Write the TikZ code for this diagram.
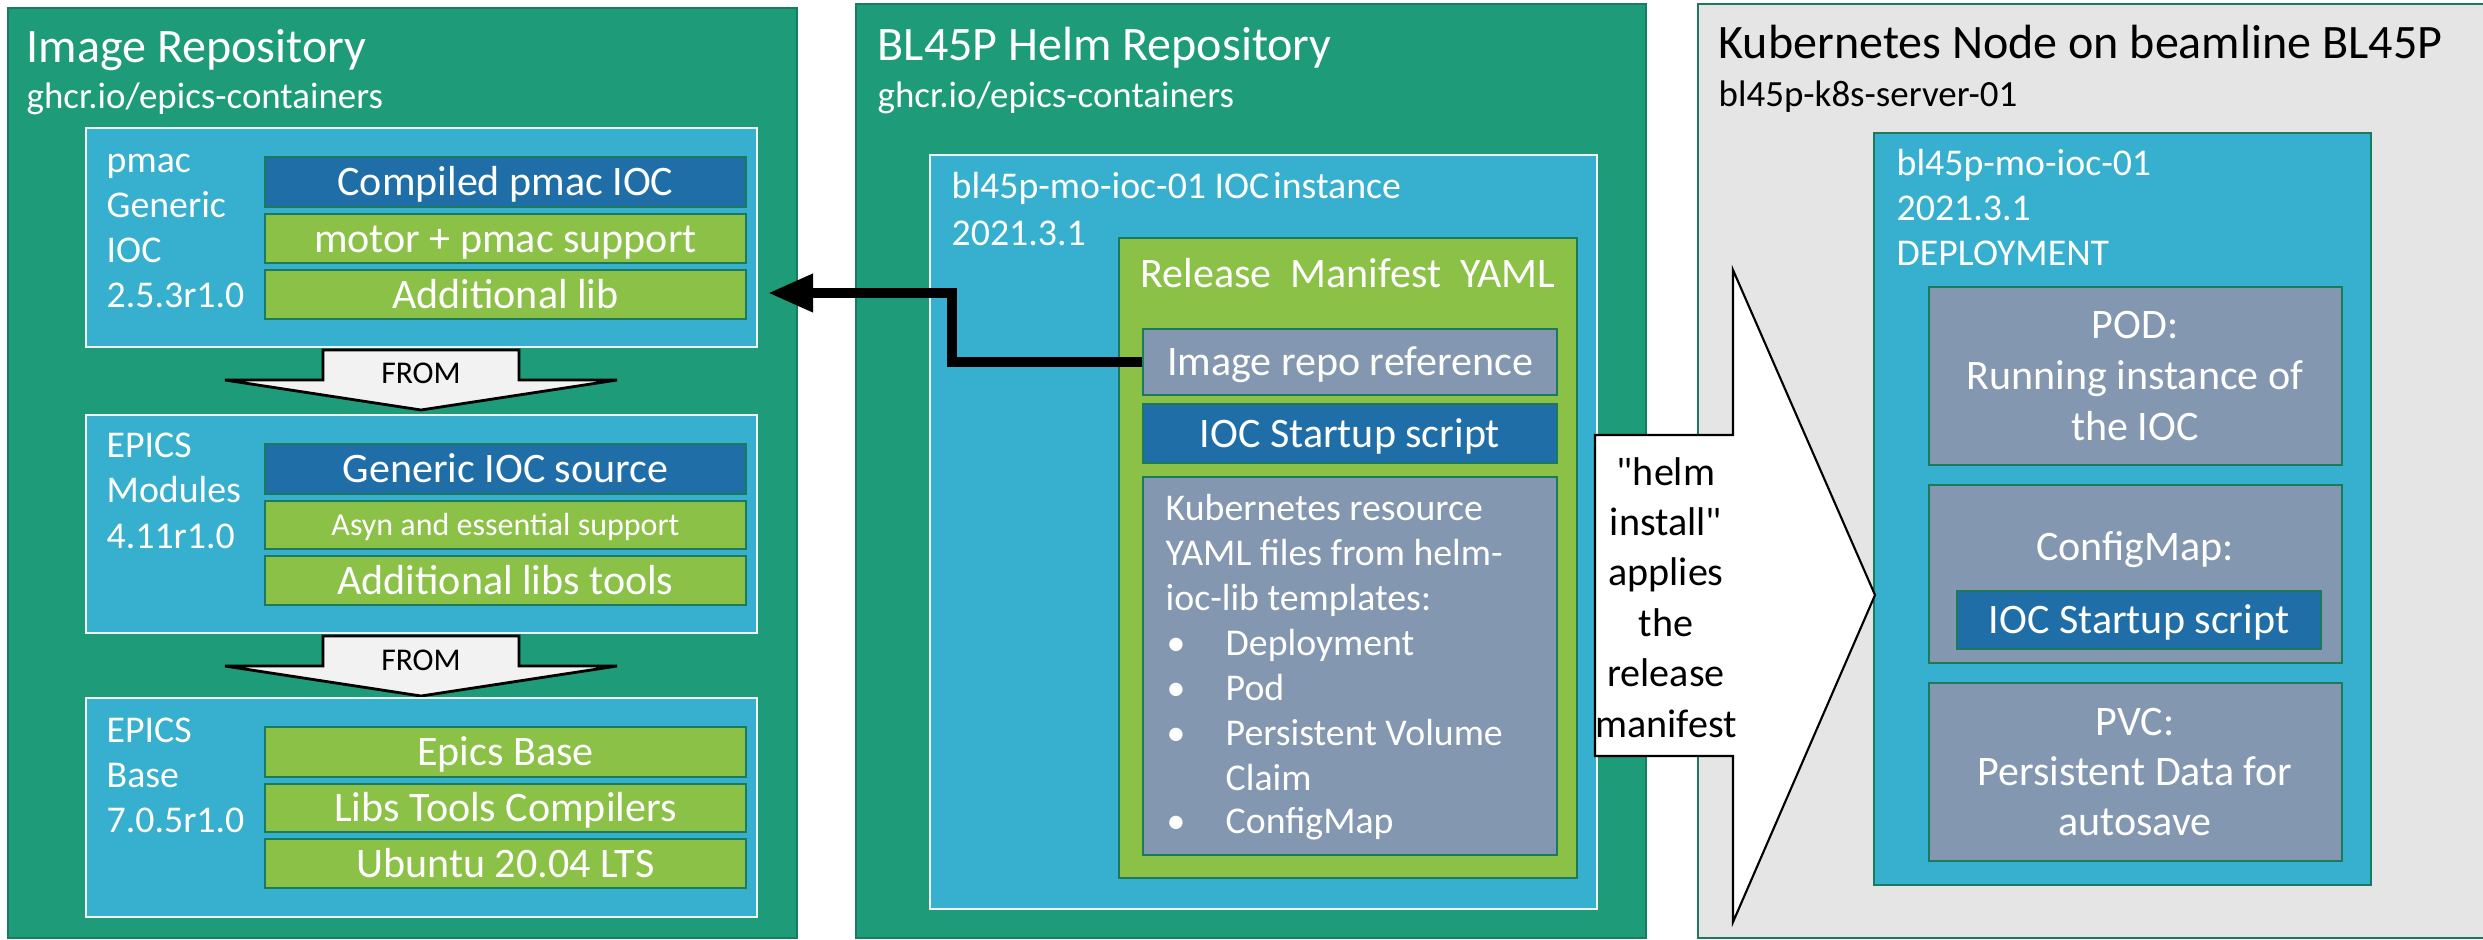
\documentclass[tikz,border=0pt]{standalone}
\usepackage{fontspec}
\setmainfont{Carlito}
\usetikzlibrary{fit,arrows.meta}
\definecolor{panelgreen}{RGB}{30,155,120}
\definecolor{paneledge}{RGB}{24,125,96}
\definecolor{cyanbox}{RGB}{55,175,206}
\definecolor{darkblue}{RGB}{31,110,168}
\definecolor{barGreen}{RGB}{139,193,71}
\definecolor{greyblue}{RGB}{132,151,176}
\definecolor{lightgrey}{RGB}{229,229,229}
\definecolor{fromfill}{RGB}{242,242,242}
\definecolor{edgegreen}{RGB}{28,122,92}
\newcommand\fsz[2]{\fontsize{#1}{#2}\selectfont}
\tikzset{
  panel/.style={fill=panelgreen, draw=paneledge, line width=0.6pt, inner sep=0pt},
  greypanel/.style={fill=lightgrey, draw=edgegreen, line width=0.6pt, inner sep=0pt},
  cyanwhite/.style={fill=cyanbox, draw=white!94!black, line width=0.7pt, inner sep=0pt},
  cyangreen/.style={fill=cyanbox, draw=edgegreen, line width=0.8pt, inner sep=0pt},
  bar/.style={draw=edgegreen, line width=0.8pt, inner sep=0pt},
  darkbar/.style={bar, fill=darkblue},
  greenbar/.style={bar, fill=barGreen},
  greybar/.style={bar, fill=greyblue},
  bartext/.style={font=\fsz{11.95}{14}, anchor=base, inner sep=0pt, text=white, yshift=-0.135cm},
  smallbartext/.style={font=\fsz{9.1}{11}, anchor=base, inner sep=0pt, text=white, yshift=-0.103cm},
  titletext/.style={font=\fsz{13.66}{16}, anchor=base west, inner sep=0pt, text=white},
  subtext/.style={font=\fsz{10.5}{12}, anchor=base west, inner sep=0pt, text=white},
  lbl/.style={font=\fsz{10.75}{13}, anchor=base west, inner sep=0pt, text=white},
  ctr/.style={font=\fsz{11.95}{14}, anchor=base, inner sep=0pt, text=white},
  fromarrow/.style={fill=fromfill, draw=black, line width=0.8pt, line join=miter},
  fromtext/.style={font=\fsz{9}{11}, anchor=base, inner sep=0pt, text=black},
  refarrow/.style={line width=2.85pt, -{Triangle[length=0.45cm,width=0.36cm]}},
  callout/.style={fill=white, draw=black, line width=0.6pt},
  callouttext/.style={font=\fsz{11.4}{14}, anchor=base, inner sep=0pt, text=black}
}
\begin{document}
\begin{tikzpicture}[x=0.01cm, y=-0.01cm]
\useasboundingbox (0,0) rectangle (2483,939);
\fill[white] (0,0) rectangle (2483,939);

% ---------------- Image Repository ----------------
\node[panel, fit={(8,8) (797,938)}] (imgrepo) {};
\node[titletext] (imgtitle) at (26,62) {Image Repository};
\node[subtext] (imgsub) at (26,108) {ghcr.io/epics-containers};

\node[cyanwhite, fit={(86,128) (757,347)}] (pmacbox) {};
\foreach \t [count=\i] in {pmac,Generic,IOC,2.5.3r1.0}
  \node[lbl] (pmacl\i) at (106,{172+45.3*(\i-1)}) {\t};
\node[darkbar, fit={(265,157) (746,207)}] (pmacioc) {};
\node[bartext] (pmacioct) at (pmacioc.center) {Compiled pmac IOC};
\node[greenbar, fit={(265,214) (746,263)}] (pmacsup) {};
\node[bartext] (pmacsupt) at (pmacsup.center) {motor + pmac support};
\node[greenbar, fit={(265,270) (746,319)}] (pmaclib) {};
\node[bartext] (pmaclibt) at (pmaclib.center) {Additional lib};

\draw[fromarrow] (323,350) -- (519,350) -- (519,380) -- (617,380) -- (421,410) -- (225,380) -- (323,380) -- cycle;
\node[fromtext] (from1) at (421,383) {FROM};

\node[cyanwhite, fit={(86,415) (757,633)}] (modbox) {};
\foreach \t [count=\i] in {EPICS,Modules,4.11r1.0}
  \node[lbl] (modl\i) at (106,{457+45.5*(\i-1)}) {\t};
\node[darkbar, fit={(265,444) (746,494)}] (gensrc) {};
\node[bartext] (gensrct) at (gensrc.center) {Generic IOC source};
\node[greenbar, fit={(265,501) (746,549)}] (asyn) {};
\node[smallbartext] (asynt) at (asyn.center) {Asyn and essential support};
\node[greenbar, fit={(265,556) (746,605)}] (addlibs) {};
\node[bartext] (addlibst) at (addlibs.center) {Additional libs tools};

\draw[fromarrow] (323,636) -- (519,636) -- (519,666) -- (617,666) -- (421,696) -- (225,666) -- (323,666) -- cycle;
\node[fromtext] (from2) at (421,670) {FROM};

\node[cyanwhite, fit={(86,698) (757,917)}] (basebox) {};
\foreach \t [count=\i] in {EPICS,Base,7.0.5r1.0}
  \node[lbl] (basel\i) at (106,{742+45*(\i-1)}) {\t};
\node[greenbar, fit={(265,727) (746,777)}] (epicsbase) {};
\node[bartext] (epicsbaset) at (epicsbase.center) {Epics Base};
\node[greenbar, fit={(265,784) (746,832)}] (libstools) {};
\node[bartext] (libstoolst) at (libstools.center) {Libs Tools Compilers};
\node[greenbar, fit={(265,839) (746,888)}] (ubuntu) {};
\node[bartext] (ubuntut) at (ubuntu.center) {Ubuntu 20.04 LTS};

% ---------------- Helm Repository ----------------
\node[panel, fit={(856,4) (1646,938)}] (helmrepo) {};
\node[titletext] (helmtitle) at (877,60) {BL45P Helm Repository};
\node[subtext] (helmsub) at (877,107) {ghcr.io/epics-containers};

\node[cyanwhite, fit={(930,155) (1597,909)}] (iocinst) {};
\node[lbl] (iocinstl1) at (951,198) {bl45p-mo-ioc-01 IOC\hspace{0.1em}instance};
\node[lbl] (iocinstl2) at (951,245) {2021.3.1};

\node[greenbar, fit={(1119,238) (1577,878)}] (manifest) {};
\node[ctr] (manifesttitle) at (1348,287) {Release\hspace{0.45em}Manifest\hspace{0.45em}YAML};
\node[greybar, fit={(1143,329) (1557,395)}] (imgref) {};
\node[bartext] (imgreft) at (imgref.center) {Image repo reference};
\node[darkbar, fit={(1143,404) (1557,463)}] (iocstart) {};
\node[bartext] (iocstartt) at (iocstart.center) {IOC Startup script};
\node[greybar, fit={(1143,477) (1557,855)}] (k8sres) {};
\node[lbl] (k8sl1) at (1165,520) {Kubernetes resource};
\node[lbl] (k8sl2) at (1165,565) {YAML files from helm-};
\node[lbl] (k8sl3) at (1165,610) {ioc-lib templates:};
\foreach \t/\yy [count=\i] in {Deployment/655, Pod/700, Persistent Volume/745, ConfigMap/833} {
  \node[lbl] (k8sb\i) at (1166,\yy) {\textbullet};
  \node[lbl] (k8si\i) at (1225,\yy) {\t};
}
\node[lbl] (k8sclaim) at (1225,790) {Claim};

% ---------------- Kubernetes Node ----------------
\node[greypanel, fit={(1698,4) (2495,938)}] (k8snode) {};
\node[titletext, text=black] (k8stitle) at (1718,58) {Kubernetes Node on beamline BL45P};
\node[subtext, text=black] (k8ssub) at (1718,106) {bl45p-k8s-server-01};

\node[cyangreen, fit={(1874,133) (2371,885)}] (deploy) {};
\foreach \t [count=\i] in {bl45p-mo-ioc-01,2021.3.1,DEPLOYMENT}
  \node[lbl] (deployl\i) at (1896,{175+45*(\i-1)}) {\t};

\node[greybar, fit={(1929,287) (2342,465)}] (pod) {};
\foreach \t [count=\i] in {POD:,Running instance of,the IOC}
  \node[ctr] (podl\i) at (2135,{338+51*(\i-1)}) {\t};

\node[greybar, fit={(1929,485) (2342,663)}] (cfgmap) {};
\node[ctr] (cfgmapl) at (2135,560) {ConfigMap:};
\node[darkbar, fit={(1957,591) (2321,649)}] (cfgscript) {};
\node[bartext] (cfgscriptt) at (cfgscript.center) {IOC Startup script};

\node[greybar, fit={(1929,683) (2342,861)}] (pvc) {};
\foreach \t [count=\i] in {PVC:,Persistent Data for,autosave}
  \node[ctr] (pvcl\i) at (2135,{735+50*(\i-1)}) {\t};

% ---------------- callout ----------------
\draw[callout] (1595,435) -- (1733,435) -- (1733,270) -- (1875,595) -- (1733,922) -- (1733,756) -- (1595,756) -- cycle;
\foreach \t [count=\i] in {\textquotedbl helm,install\textquotedbl,applies,the,release,manifest}
  \node[callouttext] (calloutl\i) at (1666,{485+50.4*(\i-1)}) {\t};

% ---------------- reference arrow ----------------
\coordinate (tipA) at (768,293);
\draw[refarrow] (imgref.west) -| (952,293) -- (tipA);
\end{tikzpicture}
\end{document}
